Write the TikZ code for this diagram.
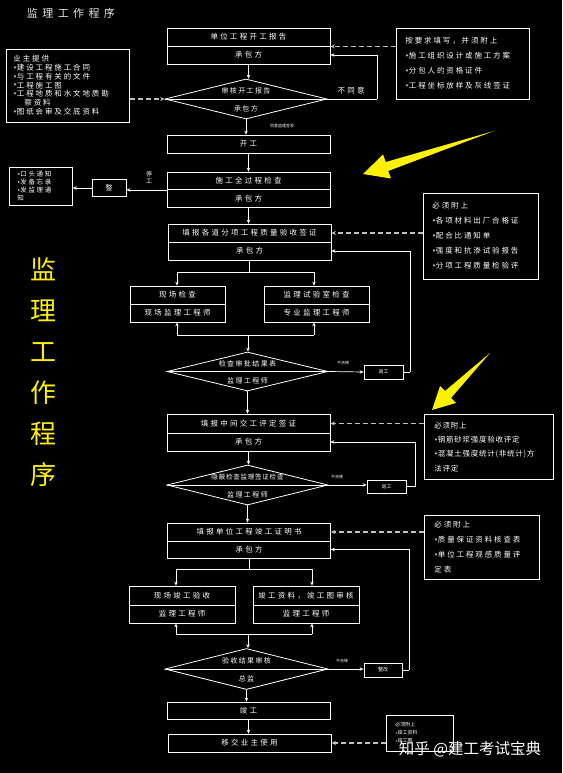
\documentclass[tikz,border=0pt]{standalone}
\usepackage{fontspec}
\usetikzlibrary{shapes.geometric,arrows.meta,calc}
\newfontfamily\cjk[LetterSpace=25]{Noto Sans CJK SC}
\newfontfamily\cjkcell[LetterSpace=30]{Noto Sans CJK SC}
\newfontfamily\cjkdia[LetterSpace=20]{Noto Sans CJK SC}
\newfontfamily\cjkdiatight[LetterSpace=12]{Noto Sans CJK SC}
\newfontfamily\cjknarrow[LetterSpace=10]{Noto Sans CJK SC}
\newfontfamily\cjkwide[LetterSpace=40]{Noto Sans CJK SC}
\newfontfamily\cjkplain{Noto Sans CJK SC}
\newcommand\stx{\raisebox{-0.25em}{*}}
\begin{document}
\begin{tikzpicture}[x=1pt,y=-1pt,
  every node/.style={text=white},
  cell/.style={draw=white, line width=0.8pt, minimum width=163pt, minimum height=18pt, inner sep=0pt, font=\fontsize{7.5}{9}\cjkcell},
  info/.style={draw=white, line width=0.8pt, inner xsep=9pt, inner ysep=0pt, align=left, anchor=north west, font=\fontsize{7.5}{15}\cjk},
  dia/.style={draw=white, line width=0.8pt, shape=diamond, inner sep=0pt, minimum width=162pt, minimum height=40pt},
  txt/.style={inner sep=0pt, font=\fontsize{7.5}{9}\cjkcell},
  dtxt/.style={inner sep=0pt, font=\fontsize{7}{9}\cjkdia},
  tiny/.style={inner sep=0pt, font=\fontsize{4}{5}\cjkplain},
  small/.style={draw=white, line width=0.8pt, inner sep=0pt, minimum width=39pt, minimum height=14pt, font=\fontsize{5}{6}\cjkplain},
  ln/.style={draw=white, line width=0.7pt},
  arr/.style={draw=white, line width=0.7pt, -{Stealth[length=4pt,width=3.5pt]}},
  darr/.style={draw=white!75!black, line width=1.2pt, dash pattern=on 5pt off 3pt, -{Stealth[length=4.5pt,width=4pt]}}
]
\fill[black] (0,0) rectangle (562,773);
\useasboundingbox (0,0) rectangle (562,773);

% title and side text
\node[inner sep=0pt, font=\fontsize{11}{13}\cjkwide, text=white!90!black] (title) at (71,13) {监理工作程序};
\node[inner sep=0pt, align=center, font=\fontsize{26}{41}\cjkplain, text=yellow] (side) at (43,372) {监\\理\\工\\作\\程\\序};

% yellow arrows
\fill[yellow] (494,131) -- (388.2,171) -- (391,178.5) -- (363,174) -- (383,154.5) -- (385.8,162) -- cycle;
\fill[yellow] (490,353) -- (451,398) -- (456,403) -- (432,410) -- (440,386) -- (445,391) -- cycle;

% ---- block 1
\node[cell] (b1t) at (248.5,37) {单位工程开工报告};
\node[cell] (b1b) at (248.5,55) {承包方};
\node[info, text width=115pt, minimum height=71pt] (rb1) at (396,28) {按要求填写，并须附上\\\stx 施工组织设计或施工方案\\\stx 分包人的资格证件\\\stx 工程坐标放样及灰线签证};
\node[info, inner xsep=7pt, text width=109pt, minimum height=73pt, font=\fontsize{7.5}{8.8}\cjk] (lb1) at (6,49) {业主提供\\\stx 建设工程施工合同\\\stx 与工程有关的文件\\\stx 工程施工图\\\stx 工程地质和水文地质勘\\\hspace*{11pt}察资料\\\stx 图纸会审及交底资料};
\node[dia] (d1) at (246,99) {};
\draw[ln] (d1.west) -- (d1.east);
\node[dtxt] (d1u) at (246,91) {审核开工报告};
\node[dtxt] (d1l) at (246,109) {承包方};
\node[txt] (no1) at (351,91) {不同意};
\coordinate (r1) at (377,99);
\node[tiny] (ok1) at (282,126) {同意监理签发};
\node[cell] (b2) at (248.5,144) {开工};

\draw[arr] (b1b.south) -- (b1b.south |- d1.north);
\draw[ln] (d1.east) -- (r1);
\draw[arr] (r1) |- (b1b.east);
\draw[darr] (rb1.west |- b1t.south) -- (b1t.south east);
\draw[darr] (lb1.east |- d1.west) -- (d1.west);
\draw[arr] (d1.south) -- (d1.south |- b2.north);

% ---- block 2
\node[cell, minimum height=17.5pt] (b3t) at (248.5,180.75) {施工全过程检查};
\node[cell, minimum height=17.5pt] (b3b) at (248.5,198.25) {承包方};
\node[small, minimum width=34pt, minimum height=17pt, font=\fontsize{7}{8}\cjkplain] (zg) at (109,188) {整};
\node[inner sep=0pt, align=center, font=\fontsize{6}{7}\cjkplain] (stop) at (149,177) {停\\工};
\node[info, inner xsep=8pt, text width=47pt, minimum height=38pt, font=\fontsize{6.5}{8}\cjk] (lb2) at (9,167) {\stx 口头通知\\\stx 发备忘录\\\stx 发监理通\\知};
\draw[arr] (b2.south) -- (b3t.north);
\draw[arr] (b3t.south west) -- (zg.east |- b3t.south west);
\draw[arr] (zg.west) -- (lb2.east |- zg.west);

% ---- block 3
\node[cell] (b4t) at (249.5,233) {填报各道分项工程质量验收签证};
\node[cell] (b4b) at (249.5,251) {承包方};
\node[info, text width=97pt, minimum height=86pt] (rb2) at (423,193) {必须附上\\\stx 各项材料出厂合格证\\\stx 配合比通知单\\\stx 强度和抗渗试验报告\\\stx 分项工程质量检验评};
\draw[arr] (b3b.south) -- (b3b.south |- b4t.north);
\draw[darr] (rb2.west |- b4t.east) -- (b4t.east);

\coordinate (s1) at (249.5,272);
\coordinate (s1l) at (177,272);
\coordinate (s1r) at (314,272);
\node[cell, minimum width=95pt] (b5lt) at (177.5,295) {现场检查};
\node[cell, minimum width=95pt] (b5lb) at (177.5,313) {现场监理工程师};
\node[cell, minimum width=105pt] (b5rt) at (316.5,295) {监理试验室检查};
\node[cell, minimum width=105pt] (b5rb) at (316.5,313) {专业监理工程师};
\draw[ln] (b4b.south) -- (s1);
\draw[ln] (s1l) -- (s1r);
\draw[arr] (s1l) -- (s1l |- b5lt.north);
\draw[arr] (s1r) -- (s1r |- b5rt.north);
\coordinate (j1) at (248,335);
\coordinate (j1l) at (177,335);
\coordinate (j1r) at (314,335);
\draw[ln] (j1l) -- (j1r);
\draw[arr] (j1l) -- (j1l |- b5lb.south);
\draw[arr] (j1r) -- (j1r |- b5rb.south);

\node[dia, minimum width=161pt, minimum height=39pt] (d2) at (247.5,371.5) {};
\draw[ln] (d2.west) -- (d2.east);
\node[dtxt] (d2u) at (247.5,364) {检查审批结果表};
\node[dtxt] (d2l) at (247.5,381) {监理工程师};
\draw[arr] (j1) -- (j1 |- d2.north);
\node[small] (fg1) at (383.5,372) {返工};
\node[tiny] (no2) at (343,363) {不合格};
\coordinate (r2) at (410,372);
\draw[arr] (d2.east) -- (fg1.west);
\draw[ln] (fg1.east) -- (r2);
\draw[arr] (r2) |- (b4b.east);

% ---- block 4
\node[cell, minimum height=19pt] (b6t) at (248.5,423.5) {填报中间交工评定签证};
\node[cell] (b6b) at (248.5,442) {承包方};
\node[info, inner xsep=10pt, text width=109pt, minimum height=65pt, font=\fontsize{7.5}{14.3}\cjknarrow] (rb3) at (424,414) {必须附上\\\stx 钢筋砂浆强度验收评定\\\stx 混凝土强度统计(非统计)方\\法评定};
\draw[arr] (d2.south) -- (d2.south |- b6t.north);
\draw[darr] (rb3.west |- b6t.east) -- (b6t.east);

\node[dia, minimum width=161pt, minimum height=40pt] (d3) at (247.5,485) {};
\draw[ln] (d3.west) -- (d3.east);
\node[inner sep=0pt, font=\fontsize{6.5}{8}\cjkdiatight] (d3u) at (247.5,477.5) {隐蔽检查监理签证检查};
\node[dtxt] (d3l) at (247.5,495) {监理工程师};
\draw[arr] (b6b.south) -- (b6b.south |- d3.north);
\node[small, minimum height=13pt] (fg2) at (386.5,486.5) {返工};
\node[tiny] (no3) at (337,477) {不合格};
\coordinate (r3) at (415,486.5);
\draw[arr] (d3.east) -- (d3.east -| fg2.west);
\draw[ln] (fg2.east) -- (r3);
\draw[arr] (r3) |- (b6b.east);

% ---- block 5
\node[cell] (b7t) at (249,532) {填报单位工程竣工证明书};
\node[cell, minimum height=17pt] (b7b) at (249,549.5) {承包方};
\node[info, inner xsep=10pt, text width=95pt, minimum height=64pt] (rb4) at (424,515) {必须附上\\\stx 质量保证资料核查表\\\stx 单位工程观感质量评\\定表};
\draw[arr] (d3.south) -- (d3.south |- b7t.north);
\draw[darr] (rb4.west |- b7t.east) -- (b7t.east);

\coordinate (s2) at (249,569);
\coordinate (s2l) at (176,569);
\coordinate (s2r) at (312,569);
\node[cell, minimum width=106pt, minimum height=19pt] (b8lt) at (182,595.5) {现场竣工验收};
\node[cell, minimum width=106pt] (b8lb) at (182,614) {监理工程师};
\node[cell, minimum width=106pt, minimum height=19pt] (b8rt) at (306,595.5) {竣工资料，竣工图审核};
\node[cell, minimum width=106pt] (b8rb) at (306,614) {监理工程师};
\draw[ln] (b7b.south) -- (s2);
\draw[ln] (s2l) -- (s2r);
\draw[arr] (s2l) -- (s2l |- b8lt.north);
\draw[arr] (s2r) -- (s2r |- b8rt.north);
\coordinate (j2) at (248,634);
\coordinate (j2l) at (176,634);
\coordinate (j2r) at (312,634);
\draw[ln] (j2l) -- (j2r);
\draw[arr] (j2l) -- (j2l |- b8lb.south);
\draw[arr] (j2r) -- (j2r |- b8rb.south);

\node[dia, minimum width=163pt, minimum height=41pt] (d4) at (246.5,669) {};
\draw[ln] (d4.west) -- (d4.east);
\node[dtxt] (d4u) at (246.5,661) {验收结果审核};
\node[dtxt] (d4l) at (246.5,679) {总监};
\draw[arr] (j2) -- (j2 |- d4.north);
\node[small, minimum width=38pt] (zg2) at (383,670) {整改};
\node[tiny] (no4) at (342,661) {不合格};
\coordinate (r4) at (409,670);
\draw[arr] (d4.east) -- (d4.east -| zg2.west);
\draw[ln] (zg2.east) -- (r4);
\draw[arr] (r4) |- (b7b.east);

% ---- block 6
\node[cell, minimum height=17pt] (b9) at (248.5,710.5) {竣工};
\node[cell] (b10) at (249.5,743) {移交业主使用};
\node[info, text width=49pt, minimum height=36pt, font=\fontsize{5}{8}\cjkplain] (rb5) at (386,715) {必须附上\\\stx 竣工资料\\\stx 竣工图};
\draw[arr] (d4.south) -- (d4.south |- b9.north);
\draw[arr] (b9.south) -- (b9.south |- b10.north);
\draw[darr] (rb5.west |- b10.east) -- (b10.east);

% watermark
\node[inner sep=0pt, font=\fontsize{15.5}{18}\cjkplain, text=white] (wm) at (470,749) {知乎 @建工考试宝典};
\end{tikzpicture}
\end{document}
